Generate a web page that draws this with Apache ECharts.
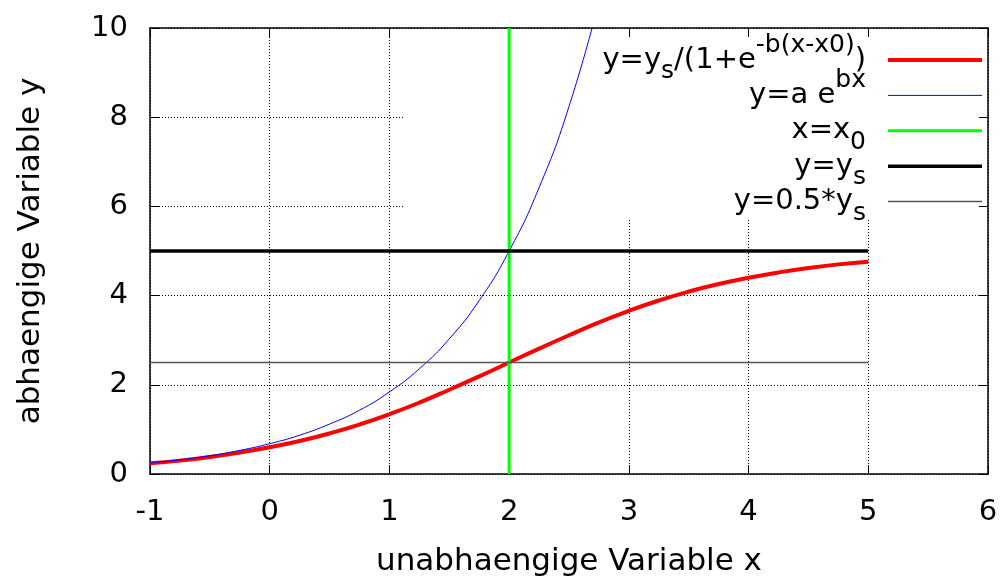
<!DOCTYPE html>
<html>
<head>
<meta charset="utf-8">
<script src="https://cdn.jsdelivr.net/npm/echarts@6/dist/echarts.min.js"></script>
<style>
  html, body { margin: 0; background: #fff; }
  #chart { width: 1006px; height: 579px; }
</style>
</head>
<body>
<div id="chart"></div>
<script>
// werte
const xLogistic = [-1, -0.75, -0.5, -0.25, 0, 0.25, 0.5, 0.75, 1, 1.25, 1.5, 1.75, 2, 2.25, 2.5, 2.75, 3, 3.25, 3.5, 3.75, 4, 4.25, 4.5, 4.75, 5];
const yLogistic = [0.24, 0.30, 0.38, 0.48, 0.60, 0.74, 0.91, 1.11, 1.34, 1.60, 1.89, 2.19, 2.50, 2.81, 3.11, 3.40, 3.66, 3.89, 4.09, 4.26, 4.40, 4.52, 4.62, 4.70, 4.76];
const xExp = [-1, -0.75, -0.5, -0.25, 0, 0.25, 0.5, 0.75, 1, 1.25, 1.5, 1.75, 2, 2.25, 2.5, 2.75];
const yExp = [0.25, 0.32, 0.41, 0.53, 0.68, 0.87, 1.12, 1.43, 1.84, 2.36, 3.03, 3.89, 5.00, 6.42, 8.24, 10.58];
const x0Line = [[2, 0], [2, 10]];
const ysLine = [[-1, 5], [5, 5]];
const halfYsLine = [[-1, 2.5], [5, 2.5]];

const seriesNames = ['logistisch', 'exponentiell', 'x0', 'ys', 'halb ys'];
// jede zeile bekommt hoch- und tiefgestellte teile, damit alle zeilen gleich hoch sind
const legendRich = {
  'logistisch': '{m|y=y}{sub|s}{m|/(1+e}{sup|-b(x-x0)}{m|)}',
  'exponentiell': '{sub| }{m|y=a e}{sup|bx}',
  'x0': '{sup| }{m|x=x}{sub|0}',
  'ys': '{sup| }{m|y=y}{sub|s}',
  'halb ys': '{sup| }{m|y=0.5*y}{sub|s}'
};

const FONT = '"DejaVu Sans", sans-serif';

function pairs(xs, ys) {
  return xs.map((x, i) => [x, ys[i]]);
}

const chart = echarts.init(document.getElementById('chart'));

const mirrorAxis = {
  axisLine: { show: true, onZero: false, lineStyle: { color: '#000', width: 1.5 } },
  axisTick: { show: true, inside: true, length: 9, lineStyle: { color: '#000', width: 1 } },
  axisLabel: { show: false },
  splitLine: { show: false },
  z: 3
};

chart.setOption({
  animation: false,
  backgroundColor: '#fff',
  grid: { left: 150, top: 28, right: 18, bottom: 105, outerBoundsMode: 'none' },
  // weisser kasten hinter der legende, verdeckt das gitter
  graphic: [{
    type: 'rect',
    z: 1,
    silent: true,
    shape: { x: 403, y: 34, width: 585, height: 186 },
    style: { fill: '#fff' }
  }],
  legend: {
    data: seriesNames,
    orient: 'vertical',
    align: 'right',
    right: 22,
    top: 33,
    padding: 0,
    itemWidth: 94,
    itemHeight: 14,
    itemGap: -15.6,
    selectedMode: false,
    itemStyle: { opacity: 0 },
    lineStyle: { width: 'inherit' },
    formatter: name => legendRich[name],
    textStyle: {
      fontFamily: FONT,
      fontSize: 29,
      color: '#000',
      padding: [0, 17, 0, 0],
      rich: {
        m: { fontFamily: FONT, fontSize: 29, color: '#000', lineHeight: 54, verticalAlign: 'middle' },
        sup: { fontFamily: FONT, fontSize: 25, color: '#000', verticalAlign: 'top' },
        sub: { fontFamily: FONT, fontSize: 25, color: '#000', verticalAlign: 'bottom', padding: [0, 0, 3, 0] }
      }
    }
  },
  xAxis: [
    {
      type: 'value',
      min: -1,
      max: 6,
      interval: 1,
      position: 'bottom',
      name: 'unabhaengige Variable x',
      nameLocation: 'middle',
      nameGap: 72,
      nameTextStyle: { fontFamily: FONT, fontSize: 31, color: '#000' },
      axisLine: { show: true, onZero: false, lineStyle: { color: '#000', width: 1.5 } },
      axisTick: { show: true, inside: true, length: 9, lineStyle: { color: '#000', width: 1 } },
      axisLabel: { margin: 24, fontFamily: FONT, fontSize: 29, color: '#000' },
      splitLine: { show: true, lineStyle: { color: '#000', width: 1, type: [1, 2] } }
    },
    Object.assign({ type: 'value', min: -1, max: 6, interval: 1, position: 'top' }, mirrorAxis)
  ],
  yAxis: [
    {
      type: 'value',
      min: 0,
      max: 10,
      interval: 2,
      position: 'left',
      name: 'abhaengige Variable y',
      nameLocation: 'middle',
      nameGap: 104,
      nameTextStyle: { fontFamily: FONT, fontSize: 31, color: '#000' },
      axisLine: { show: true, onZero: false, lineStyle: { color: '#000', width: 1.5 } },
      axisTick: { show: true, inside: true, length: 9, lineStyle: { color: '#000', width: 1 } },
      axisLabel: { margin: 22, fontFamily: FONT, fontSize: 29, color: '#000' },
      splitLine: { show: true, lineStyle: { color: '#000', width: 1, type: [1, 2] } }
    },
    Object.assign({ type: 'value', min: 0, max: 10, interval: 2, position: 'right' }, mirrorAxis)
  ],
  series: [
    {
      name: seriesNames[0],
      type: 'line',
      data: pairs(xLogistic, yLogistic),
      smooth: true,
      symbol: 'none',
      lineStyle: { color: '#ff0000', width: 4 },
      itemStyle: { color: '#ff0000' }
    },
    {
      name: seriesNames[1],
      type: 'line',
      data: pairs(xExp, yExp),
      smooth: true,
      symbol: 'none',
      lineStyle: { color: '#0000ff', width: 1 },
      itemStyle: { color: '#0000ff' }
    },
    {
      name: seriesNames[2],
      type: 'line',
      data: x0Line,
      symbol: 'none',
      lineStyle: { color: '#00ff00', width: 3 },
      itemStyle: { color: '#00ff00' }
    },
    {
      name: seriesNames[3],
      type: 'line',
      data: ysLine,
      symbol: 'none',
      lineStyle: { color: '#000', width: 3.5 },
      itemStyle: { color: '#000' }
    },
    {
      name: seriesNames[4],
      type: 'line',
      data: halfYsLine,
      symbol: 'none',
      lineStyle: { color: '#555', width: 1.5 },
      itemStyle: { color: '#555' }
    }
  ]
});
</script>
</body>
</html>
